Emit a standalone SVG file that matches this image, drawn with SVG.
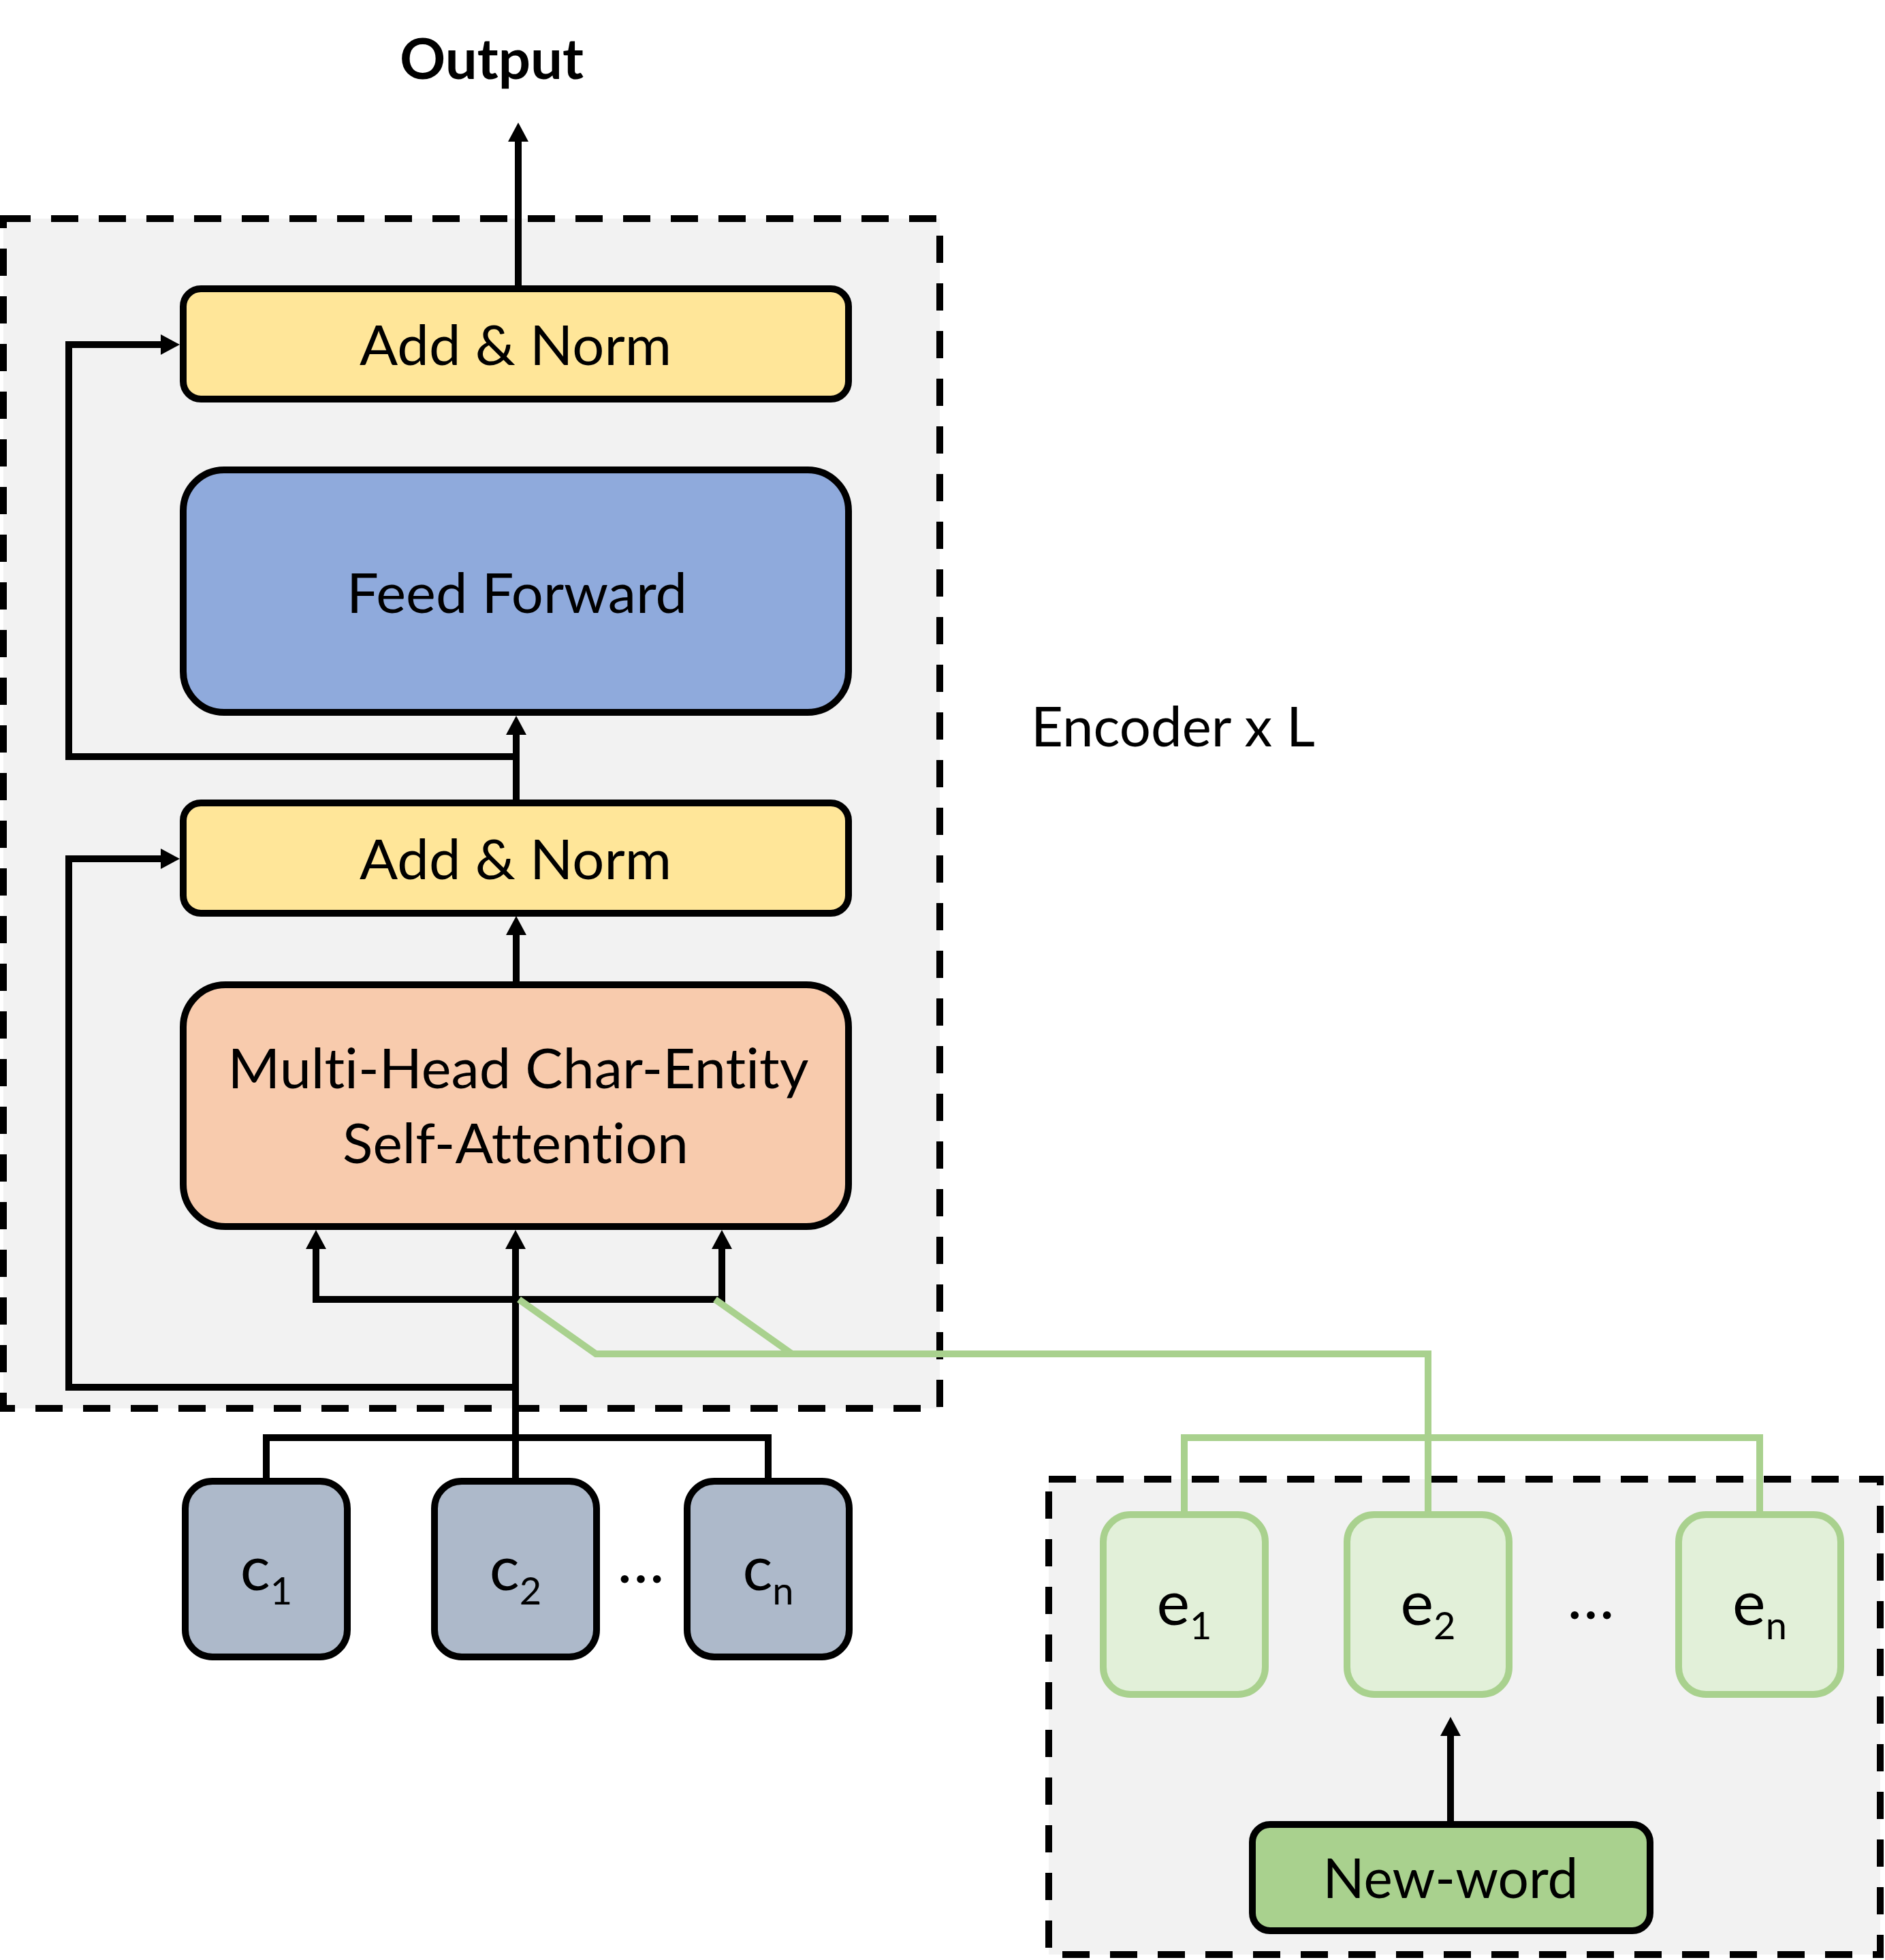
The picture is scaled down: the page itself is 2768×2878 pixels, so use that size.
<svg xmlns="http://www.w3.org/2000/svg" width="2768" height="2878" viewBox="0 0 2768 2878">
<style>
.bg{fill:#FFFFFF}
.dash{fill:#F2F2F2;stroke:#000;stroke-width:10;stroke-dasharray:40 30}
.box{stroke:#000;stroke-width:10}
.yel{fill:#FFE699}
.blu{fill:#8FAADC}
.pch{fill:#F8CBAD}
.gry{fill:#ADB9CA}
.ent{fill:#E2F0D9;stroke:#A9D18E;stroke-width:10}
.nw{fill:#A9D18E}
.ln{fill:none;stroke:#000;stroke-width:10;stroke-linejoin:miter}
.gl{fill:none;stroke:#A9D18E;stroke-width:10;stroke-linejoin:miter}
text{font-variant-ligatures:none;font-feature-settings:"liga" 0,"clig" 0}
.t{font-family:Lato,"Liberation Sans",sans-serif;font-size:82px;fill:#000;text-anchor:middle}
.tb{font-family:Lato,"Liberation Sans",sans-serif;font-size:82px;font-weight:bold;fill:#000;text-anchor:middle}
.s{font-family:Lato,"Liberation Sans",sans-serif;font-size:92px;fill:#000;text-anchor:middle}
.sub{font-size:56px}
</style>
<defs>
<marker id="ah" markerUnits="userSpaceOnUse" markerWidth="30" markerHeight="30" viewBox="0 0 28 30" refX="8" refY="15" orient="auto">
<path d="M0,0 L28,15 L0,30 z" fill="#000"/>
</marker>
</defs>
<rect class="bg" x="0" y="0" width="2768" height="2878"/>

<g id="encoder-frame">
<rect class="dash" x="5" y="321" width="1375" height="1747"/>
<text x="1514" y="1096" style="font-family:Lato,'Liberation Sans',sans-serif;font-size:82px;fill:#000" textLength="417" lengthAdjust="spacingAndGlyphs">Encoder x L</text>
</g>

<g id="entity-frame">
<rect class="dash" x="1540" y="2172" width="1221" height="698"/>
</g>

<g id="output">
<text class="tb" x="722" y="116" textLength="270" lengthAdjust="spacingAndGlyphs">Output</text>
</g>

<g id="addnorm-top">
<rect class="box yel" x="269" y="424" width="977" height="162" rx="26" ry="26"/>
<text class="t" x="757" y="536" textLength="458" lengthAdjust="spacingAndGlyphs">Add &amp; Norm</text>
</g>

<g id="feed-forward">
<rect class="box blu" x="269" y="690" width="977" height="356" rx="60" ry="60"/>
<text class="t" x="759" y="900" textLength="500" lengthAdjust="spacingAndGlyphs">Feed Forward</text>
</g>

<g id="addnorm-bottom">
<rect class="box yel" x="269" y="1179" width="977" height="162" rx="26" ry="26"/>
<text class="t" x="757" y="1291" textLength="458" lengthAdjust="spacingAndGlyphs">Add &amp; Norm</text>
</g>

<g id="mhsa">
<rect class="box pch" x="269" y="1446" width="977" height="355" rx="62" ry="62"/>
<text class="t" x="761" y="1598" textLength="853" lengthAdjust="spacingAndGlyphs">Multi-Head Char-Entity</text>
<text class="t" x="757" y="1708" textLength="508" lengthAdjust="spacingAndGlyphs">Self-Attention</text>
</g>

<g id="c1">
<rect class="box gry" x="272" y="2175" width="238" height="258" rx="40" ry="40"/>
<text class="s" x="391" y="2335">c<tspan class="sub" dy="21">1</tspan></text>
</g>
<g id="c2">
<rect class="box gry" x="638" y="2175" width="238" height="258" rx="40" ry="40"/>
<text class="s" x="757" y="2335">c<tspan class="sub" dy="21">2</tspan></text>
</g>
<g id="c-dots">
<text class="s" x="941" y="2324">…</text>
</g>
<g id="cn">
<rect class="box gry" x="1009" y="2175" width="238" height="258" rx="40" ry="40"/>
<text class="s" x="1128" y="2335">c<tspan class="sub" dy="21">n</tspan></text>
</g>

<g id="e1">
<rect class="ent" x="1620" y="2224" width="238" height="264" rx="40" ry="40"/>
<text class="s" x="1739" y="2386">e<tspan class="sub" dy="21">1</tspan></text>
</g>
<g id="e2">
<rect class="ent" x="1978" y="2224" width="238" height="264" rx="40" ry="40"/>
<text class="s" x="2097" y="2386">e<tspan class="sub" dy="21">2</tspan></text>
</g>
<g id="e-dots">
<text class="s" x="2336" y="2377">…</text>
</g>
<g id="en">
<rect class="ent" x="2465" y="2224" width="238" height="264" rx="40" ry="40"/>
<text class="s" x="2584" y="2386">e<tspan class="sub" dy="21">n</tspan></text>
</g>

<g id="new-word">
<rect class="box nw" x="1839" y="2679" width="584" height="156" rx="26" ry="26"/>
<text class="t" x="2130" y="2787" textLength="375" lengthAdjust="spacingAndGlyphs">New-word</text>
</g>

<g id="connectors">
<path class="ln" d="M761,424 V200" marker-end="url(#ah)"/>
<path class="ln" d="M758,1179 V1071" marker-end="url(#ah)"/>
<path class="ln" d="M758,1111 H101 V506 H244" marker-end="url(#ah)"/>
<path class="ln" d="M758,1446 V1365" marker-end="url(#ah)"/>
<path class="ln" d="M757,2175 V1826" marker-end="url(#ah)"/>
<path class="ln" d="M757,2037 H101 V1261 H244" marker-end="url(#ah)"/>
<path class="ln" d="M464,1908 V1826" marker-end="url(#ah)"/>
<path class="ln" d="M1060,1908 V1826" marker-end="url(#ah)"/>
<path class="ln" d="M459,1908 H1065"/>
<path class="ln" d="M391,2175 V2111 H1128 V2175"/>
<path class="gl" d="M762,1908 L875,1988 H2097 V2224"/>
<path class="gl" d="M1050,1908 L1163,1988"/>
<path class="gl" d="M1739,2224 V2111 H2584 V2224"/>
<path class="ln" d="M2130,2679 V2541" marker-end="url(#ah)"/>
</g>
</svg>
